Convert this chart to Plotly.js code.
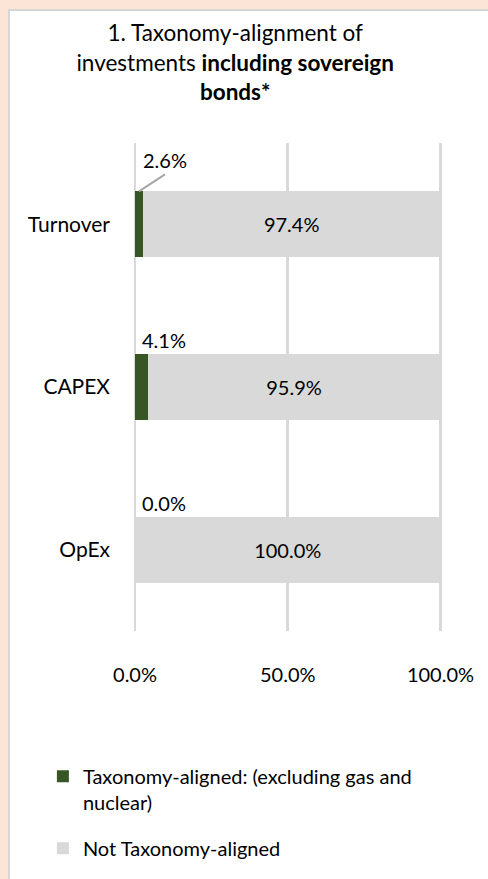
<!DOCTYPE html>
<html><head><meta charset="utf-8">
<script src="https://cdn.plot.ly/plotly-3.0.1.min.js"></script>
<style>
html,body{margin:0;padding:0;background:#fce4d6;width:488px;height:879px;overflow:hidden}
#panel{position:absolute;left:8px;top:9px;width:480px;height:870px;background:#fff;border-left:2px solid #d6d6d6;border-top:2px solid #d6d6d6;box-sizing:border-box}
#chart{position:absolute;left:0;top:0;width:488px;height:879px}
</style></head><body>
<div id="panel"></div><div id="chart"></div>
<script>
const categories = ['Turnover', 'CAPEX', 'OpEx'];
const alignedValues = [2.6, 4.1, 0.0];
const notAlignedValues = [97.4, 95.9, 100.0];
const seriesNames = ['Taxonomy-aligned: (excluding gas and<br>nuclear)', 'Not Taxonomy-aligned'];
const xTickValues = [0, 50, 100];
const xTickLabels = ['0.0%', '50.0%', '100.0%'];

const FONT = 'Lato, Carlito, Calibri, sans-serif';
const GREEN = '#375623';
const GREY = '#d9d9d9';

const traces = [
  {
    type: 'bar', orientation: 'h', name: seriesNames[0], legendgroup: 'a',
    x: alignedValues, y: categories,
    marker: {color: GREEN}, hoverinfo: 'skip', textposition: 'none'
  },
  {
    type: 'bar', orientation: 'h', name: seriesNames[1], legendgroup: 'b',
    x: notAlignedValues, y: categories,
    marker: {color: GREY}, hoverinfo: 'skip',
    text: notAlignedValues.map(v => v.toFixed(1) + '%'),
    textposition: 'inside', insidetextanchor: 'middle', textangle: 0,
    constraintext: 'none',
    textfont: {family: FONT, size: 20, color: '#000'}
  }
];

const annotations = categories.map((c, i) => {
  const base = {
    x: 0, y: c, xref: 'x', yref: 'y',
    text: alignedValues[i].toFixed(1) + '%',
    font: {family: FONT, size: 20, color: '#000'}
  };
  if (i === 0) {
    return Object.assign(base, {
      x: alignedValues[i] / 2, yshift: 33,
      showarrow: true, arrowhead: 0, arrowwidth: 2, arrowcolor: '#a6a6a6',
      ax: 26, ay: -17, xanchor: 'center', yanchor: 'bottom'
    });
  }
  return Object.assign(base, {showarrow: false, xanchor: 'center', yanchor: 'middle', xshift: 29, yshift: 47});
});

const layout = {
  width: 488, height: 879,
  paper_bgcolor: 'rgba(0,0,0,0)', plot_bgcolor: 'rgba(0,0,0,0)',
  margin: {l: 135, r: 45.5, t: 143, b: 247},
  barmode: 'stack', bargap: 0.595,
  font: {family: FONT, size: 20, color: '#000'},
  title: {
    text: '1. Taxonomy-alignment of<br>investments <b>including sovereign</b><br><b>bonds*</b>',
    font: {family: FONT, size: 22.5, color: '#000'},
    x: 0.482, xref: 'container', xanchor: 'center',
    y: 0.953, yref: 'container', yanchor: 'top'
  },
  xaxis: {
    range: [0, 100.5], tickvals: xTickValues, ticktext: xTickLabels,
    showgrid: true, gridcolor: GREY, gridwidth: 2.5,
    zeroline: true, zerolinecolor: GREY, zerolinewidth: 2.5,
    showline: false, ticks: '', ticklabelstandoff: 30,
    tickfont: {family: FONT, size: 20, color: '#000'}, fixedrange: true
  },
  yaxis: {
    categoryorder: 'array', categoryarray: categories, autorange: 'reversed',
    showgrid: false, zeroline: false, showline: false, ticks: '',
    ticklabelstandoff: 24,
    tickfont: {family: FONT, size: 21, color: '#000'}, fixedrange: true
  },
  showlegend: true,
  legend: {
    x: -0.3, xanchor: 'left', y: -0.255, yanchor: 'top',
    orientation: 'v', traceorder: 'grouped', valign: 'top', tracegroupgap: 17,
    font: {family: FONT, size: 20, color: '#000'},
    bgcolor: 'rgba(0,0,0,0)'
  },
  annotations: annotations
};

Plotly.newPlot('chart', traces, layout, {displayModeBar: false, staticPlot: true});
</script>
</body></html>
